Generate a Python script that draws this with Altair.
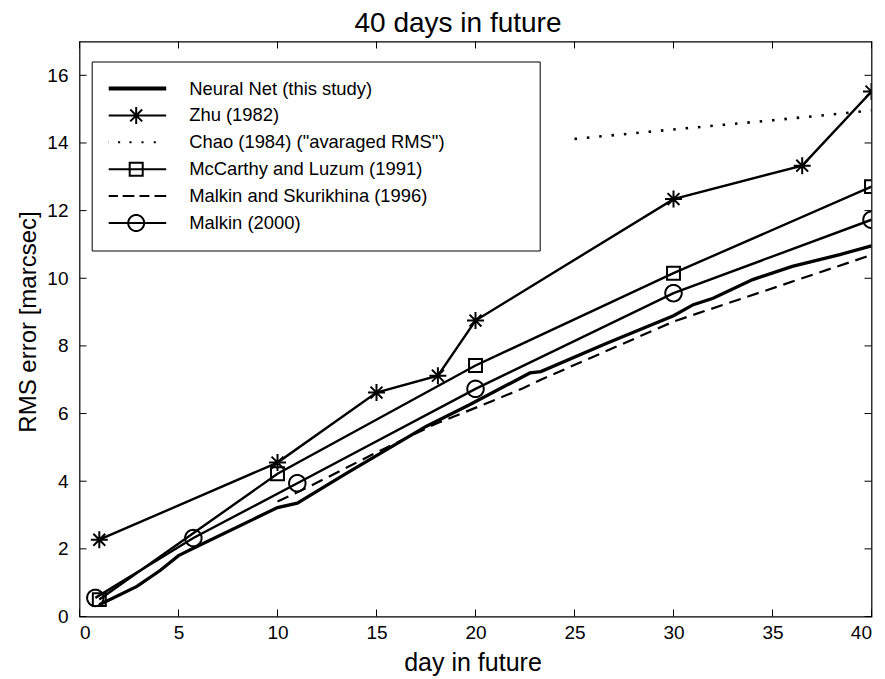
import math
import altair as alt
import pandas as pd

# ---------------- data ----------------
series_names = [
    "Neural Net (this study)",
    "Zhu (1982)",
    "Chao (1984) (\"avaraged RMS\")",
    "McCarthy and Luzum (1991)",
    "Malkin and Skurikhina (1996)",
    "Malkin (2000)",
]

nn_day = [1, 2.9, 4.07, 5, 5.75, 10, 11, 13.5, 16.35, 17.5, 19.7, 22.75, 23.3, 26.6, 30, 31, 32, 34, 36, 38.4, 40]
nn_rms = [0.35, 0.89, 1.36, 1.8, 2.02, 3.22, 3.35, 4.24, 5.22, 5.62, 6.26, 7.2, 7.24, 8.07, 8.89, 9.22, 9.41, 9.96, 10.35, 10.7, 10.96]

zhu_day = [1, 10, 15, 18.1, 20, 30, 36.5, 40]
zhu_rms = [2.27, 4.55, 6.62, 7.12, 8.75, 12.34, 13.33, 15.52]

chao_day = [25, 30, 35, 40]
chao_rms = [14.12, 14.4, 14.67, 14.96]

mcc_day = [1, 10, 20, 30, 40]
mcc_rms = [0.5, 4.22, 7.42, 10.15, 12.71]

ms_day = [10, 11.6, 15, 18, 20.6, 22.4, 23.3, 30, 40]
ms_rms = [3.4, 3.84, 4.85, 5.7, 6.31, 6.75, 7.0, 8.72, 10.69]

m2000_day = [0.8, 5.75, 11, 20, 30, 40]
m2000_rms = [0.55, 2.32, 3.94, 6.73, 9.56, 11.73]

x_ticks = [0, 5, 10, 15, 20, 25, 30, 35, 40]
y_ticks = [0, 2, 4, 6, 8, 10, 12, 14, 16]

# ---------------- styling ----------------
FONT = "Liberation Sans"
W, H = 792, 575
TICK = 7


def circle_path(r, n=40):
    pts = [(r * math.cos(2 * math.pi * k / n), r * math.sin(2 * math.pi * k / n)) for k in range(n)]
    return "M" + "L".join(f"{x:.4f},{y:.4f}" for x, y in pts) + "Z"


def square_path(h):
    return f"M{-h},{-h}L{h},{-h}L{h},{h}L{-h},{h}Z"


def star_path(h):
    d = h * 0.7
    return (f"M{-h},0L{h},0M0,{-h}L0,{h}"
            f"M{-d},{-d}L{d},{d}M{-d},{d}L{d},{-d}")


# plot markers (unit = 8.5 px)
MARK_SIZE = 289
star_mark = star_path(1)
square_mark = square_path(0.76)
circle_mark = circle_path(0.97)

# legend symbols (unit = 30 px)
seg = "M-1,0L1,0"
leg_nn = "M-1,-0.03L1,-0.03M-1,0.03L1,0.03"
leg_zhu = seg + star_path(0.283)
leg_chao = "".join(f"M{c - 0.035:.3f},0L{c + 0.035:.3f},0" for c in [-0.95, -0.57, -0.19, 0.21, 0.62])
leg_mcc = seg + square_path(0.217)
leg_ms = "".join(f"M{a},0L{b},0" for a, b in [(-1, -0.61), (-0.45, -0.06), (0.11, 0.44), (0.61, 1)])
leg_m2000 = seg + circle_path(0.267)
legend_paths = [leg_nn, leg_zhu, leg_chao, leg_mcc, leg_ms, leg_m2000]

x_scale = alt.Scale(domain=[0, 40], nice=False, zero=False)
y_scale = alt.Scale(domain=[0, 17], nice=False, zero=False)

x_axis = alt.Axis(values=x_ticks, ticks=False, domain=False, grid=False,
                  labelFont=FONT, labelFontSize=19, labelColor="black", labelPadding=7,
                  title="day in future", titleFont=FONT, titleFontSize=25,
                  titleFontWeight="normal", titleColor="black",
                  titleBaseline="alphabetic", titleY=53.5, titleX=393)
y_axis = alt.Axis(values=y_ticks, ticks=False, domain=False, grid=False,
                  labelFont=FONT, labelFontSize=19, labelColor="black", labelPadding=11.5,
                  title="RMS error [marcsec]", titleFont=FONT, titleFontSize=24,
                  titleFontWeight="normal", titleColor="black",
                  titleBaseline="alphabetic", titleX=-44, titleY=280)


def X(f):
    return alt.X(f"{f}:Q", scale=x_scale, axis=x_axis)


def Y(f):
    return alt.Y(f"{f}:Q", scale=y_scale, axis=y_axis)


def frame(days, vals):
    return pd.DataFrame({"day": days, "rms": vals})


def line(days, vals, width=2.4, dash=None):
    kw = dict(color="black", strokeWidth=width, clip=True)
    if dash is not None:
        kw["strokeDash"] = dash
    return alt.Chart(frame(days, vals)).mark_line(**kw).encode(x=X("day"), y=Y("rms"))


def points(days, vals, shape):
    return alt.Chart(frame(days, vals)).mark_point(
        shape=shape, size=MARK_SIZE, filled=False, color="black",
        strokeWidth=2, opacity=1, clip=True
    ).encode(x=X("day"), y=Y("rms"))


layers = [
    line(ms_day, ms_rms, 2.2, [12, 7]),
    line(chao_day, chao_rms, 2.6, [2.5, 9.9]),
    line(m2000_day, m2000_rms),
    line(mcc_day, mcc_rms),
    line(zhu_day, zhu_rms),
    line(nn_day, nn_rms, 3.3),
    points(zhu_day, zhu_rms, star_mark),
    points(mcc_day, mcc_rms, square_mark),
    points(m2000_day, m2000_rms, circle_mark),
]

# inward ticks on all four sides, positioned by the scales
xt = pd.DataFrame({"v": x_ticks})
yt = pd.DataFrame({"v": y_ticks})
rule_kw = dict(color="black", strokeWidth=1)
layers += [
    alt.Chart(xt).mark_rule(**rule_kw).encode(x=X("v"), y=alt.value(H), y2=alt.value(H - TICK)),
    alt.Chart(xt).mark_rule(**rule_kw).encode(x=X("v"), y=alt.value(0), y2=alt.value(TICK)),
    alt.Chart(yt).mark_rule(**rule_kw).encode(y=Y("v"), x=alt.value(0), x2=alt.value(TICK)),
    alt.Chart(yt).mark_rule(**rule_kw).encode(y=Y("v"), x=alt.value(W), x2=alt.value(W - TICK)),
]

# legend (native Vega legend driven by a shape scale over the series names)
# blank (non-whitespace) padding so the legend box is as wide as the reference's
pad = "\u2800" * 6
legend = alt.Legend(
    title=None, orient="none", legendX=12.2, legendY=20,
    padding=17, clipHeight=20, rowPadding=6.9,
    symbolSize=3600, symbolOffset=-3.5, labelOffset=22,
    symbolStrokeWidth=2, symbolStrokeColor="black", symbolFillColor="transparent",
    labelFont=FONT, labelFontSize=18.4, labelColor="black", labelLimit=800,
    labelExpr=f"indexof(datum.label, 'Chao') == 0 ? datum.label + '{pad}' : datum.label",
    strokeColor="black", fillColor="white", cornerRadius=0,
)
legend_layer = alt.Chart(pd.DataFrame({"series": series_names})).mark_point(
    filled=False, color="black", opacity=1
).encode(
    shape=alt.Shape("series:N", scale=alt.Scale(domain=series_names, range=legend_paths), legend=legend)
).transform_filter("false")
layers.append(legend_layer)

chart = alt.layer(*layers).properties(
    width=W, height=H,
    title=alt.TitleParams("40 days in future", font=FONT, fontSize=28, fontWeight="normal",
                          color="black", anchor="middle", dx=-17.5, dy=28.5, offset=10,
                          baseline="alphabetic"),
    autosize=alt.AutoSizeParams(type="none"),
    padding={"left": 79.5, "top": 41.5, "right": 13.5, "bottom": 62.5},
    background="white",
).configure_view(stroke="black", strokeWidth=1.2)

chart.save("out.html", embed_options={"renderer": "svg", "actions": False})
